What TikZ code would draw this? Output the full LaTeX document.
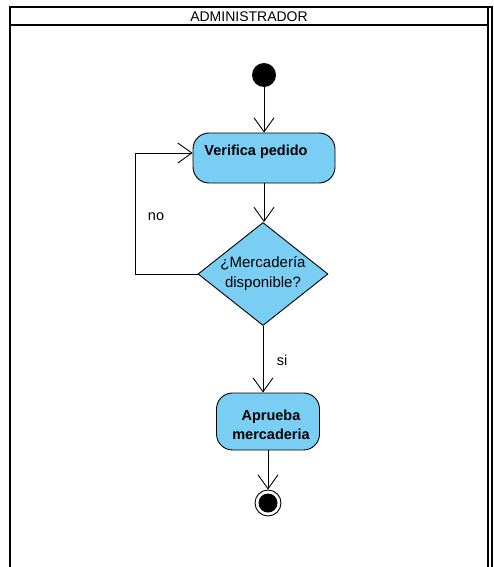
\documentclass[tikz,border=0pt]{standalone}
\usepackage{fontspec}
\setmainfont{Liberation Sans}
\usetikzlibrary{shapes.geometric,arrows.meta}
\definecolor{actfill}{RGB}{122,206,243}
\begin{document}
\begin{tikzpicture}[x=1pt,y=-1pt,
  lane/.style={line width=2pt,draw=black},
  action/.style={draw=black,line width=0.9pt,fill=actfill,rounded corners=16pt},
  acttext/.style={font=\bfseries\fontsize{14.5}{19}\selectfont,align=center,inner sep=0},
  flow/.style={line width=0.9pt,-{Straight Barb[length=14pt,width=20pt,line width=0.9pt]}},
  lbl/.style={font=\fontsize{14.5}{16}\selectfont}]
\useasboundingbox (0,0) rectangle (493,567);

% swimlane frame
\draw[lane] (10,567) -- (10,7) -- (488,7) -- (488,567);
\draw[lane] (10,25) -- (488,25);
\draw[lane] (492,7) -- (492,567);
\draw[lane] (488,7) -- (493,7);
\node[font=\fontsize{14}{16}\selectfont] (lanetitle) at (249,16.5) {ADMINISTRADOR};

% start
\node[circle,fill=black,minimum size=24pt,inner sep=0] (start) at (264,75) {};

% actions
\node[action,minimum width=142pt,minimum height=50pt] (verif) at (264,158) {};
\node[acttext] (veriftext) at (256,152) {Verifica pedido};
\node[diamond,draw=black,line width=0.9pt,fill=actfill,minimum width=130pt,minimum height=103pt,inner sep=0] (dec) at (263,274) {};
\node[font=\fontsize{15}{20}\selectfont,align=center] (dectext) at (263,274) {¿Mercadería\\disponible?};
\node[action,minimum width=103pt,minimum height=57pt] (aprueba) at (268,421.5) {};
\node[acttext] (apruebatext) at (271,425) {Aprueba\\mercaderia};

% end
\node[circle,draw=black,line width=0.9pt,fill=white,minimum size=26pt,inner sep=0] (end) at (268,503) {};
\node[circle,fill=black,minimum size=19pt,inner sep=0] (endin) at (end.center) {};

% flows
\draw[flow] (start) -- (verif);
\draw[flow] (verif) -- (verif.south |- dec.north);
\draw[flow] (dec.west) -- (135,274) -- (135,153) -- (verif.west |- 0,153);
\draw[flow] (dec.south) -- (dec.south |- aprueba.north);
\draw[flow] (aprueba) -- (aprueba.south |- end.north);

\node[lbl] (nolbl) at (156,217) {no};
\node[lbl] (silbl) at (282,360) {si};
\end{tikzpicture}
\end{document}
